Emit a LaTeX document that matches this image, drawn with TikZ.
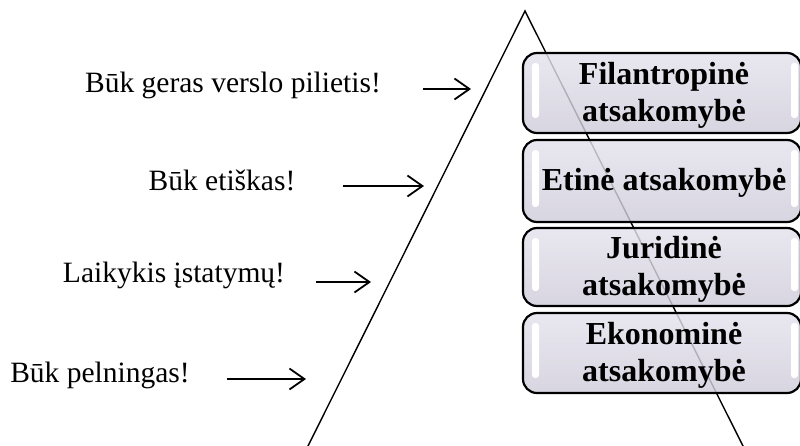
\documentclass[tikz,border=0pt]{standalone}
\usepackage{fontspec}
\setmainfont{Liberation Serif}
\usetikzlibrary{arrows.meta}
\definecolor{boxtop}{HTML}{E4E2EC}
\definecolor{boxbot}{HTML}{CFCCDA}
\tikzset{
  leg/.style={line width=1.4pt, black},
  levelbox/.style={draw=black, line width=2.2pt, rounded corners=14pt,
    top color=boxtop, bottom color=boxbot, fill opacity=0.82},
  gloss/.style={fill=white, draw=none, rounded corners=3pt},
  boxtext/.style={font=\fontsize{32}{37}\selectfont\bfseries, align=center,
    text opacity=1, inner sep=0pt},
  motto/.style={font=\fontsize{29.5}{34}\selectfont, anchor=base, inner sep=0pt},
  pointer/.style={line width=1.8pt, -{Straight Barb[length=15pt,width=21pt,line width=1.8pt]}}
}
\begin{document}
\begin{tikzpicture}[x=1pt,y=-1pt]
\useasboundingbox (0,0) rectangle (800,445);

% pyramid outline
\coordinate (apex) at (525,11);
\coordinate (baseL) at (306,450);
\coordinate (baseR) at (745,450);
\draw[leg] (baseL) -- (apex) -- (baseR);

% responsibility levels, top to bottom
\foreach \name/\ya/\yb in {fil/53/133, eti/140/222, jur/228/306, eko/313/393}{
  \draw[levelbox] (523,\ya) rectangle (801,\yb);
  \fill[gloss] (532,\ya+10) rectangle (539,\yb-15);
  \fill[gloss] (791,\ya+10) rectangle (798,\yb-15);
  \coordinate (\name) at (664,{(\ya+\yb)/2+2});
}
\node[boxtext] (tfil) at (fil) {Filantropinė\\atsakomybė};
\node[boxtext] (teti) at (eti) {Etinė atsakomybė};
\node[boxtext] (tjur) at (jur) {Juridinė\\atsakomybė};
\node[boxtext] (teko) at (eko) {Ekonominė\\atsakomybė};

% mottos with their pointers
\node[motto] (m1) at (233,92) {Būk geras verslo pilietis!};
\node[motto] (m2) at (222,190) {Būk etiškas!};
\node[motto] (m3) at (174,282) {Laikykis įstatymų!};
\node[motto] (m4) at (100,382) {Būk pelningas!};

\coordinate (p1a) at (423,89);  \coordinate (p1b) at (471,89);
\coordinate (p2a) at (343,186); \coordinate (p2b) at (424,186);
\coordinate (p3a) at (316,282); \coordinate (p3b) at (371,282);
\coordinate (p4a) at (227,379); \coordinate (p4b) at (306,379);
\draw[pointer] (p1a) -- (p1b);
\draw[pointer] (p2a) -- (p2b);
\draw[pointer] (p3a) -- (p3b);
\draw[pointer] (p4a) -- (p4b);
\end{tikzpicture}
\end{document}
